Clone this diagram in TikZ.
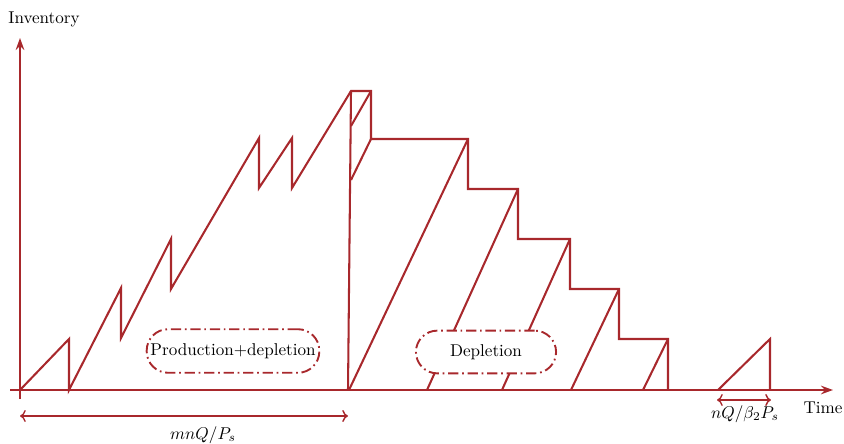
\documentclass[tikz,border=0pt]{standalone}
\usetikzlibrary{arrows.meta}
\definecolor{ink}{RGB}{168,40,44}
\begin{document}
\begin{tikzpicture}[x=0.585pt,y=-0.585pt,
  curve/.style={draw=ink,line width=1.2pt,line join=miter},
  axis/.style={draw=ink,line width=1.2pt,-{Stealth[length=7pt,width=5pt]}},
  dim/.style={draw=ink,line width=0.8pt,<->},
  tag/.style={draw=ink,line width=1.1pt,fill=white,rounded corners=12.5pt,
    dash pattern=on 6pt off 2.2pt on 1pt off 2.2pt,inner sep=0pt,font=\normalsize},
  lbl/.style={inner sep=1pt,font=\normalsize}]
\useasboundingbox (0,0) rectangle (844,444);
% axes
\coordinate (yb) at (20,399);
\coordinate (yt) at (20,38);
\coordinate (xl) at (10,390);
\coordinate (xr) at (833,390);
\draw[axis] (yb) -- (yt);
\draw[axis] (xl) -- (xr);
\node[lbl] (inv) at (44,19) {Inventory};
\node[lbl] (time) at (823,408) {Time};
% production + depletion
\draw[curve] (20,390) -- (69,339) -- (69,390) -- (121,288) -- (121,338)
  -- (171,239) -- (171,289) -- (259,138) -- (259,188) -- (292,138)
  -- (292,188) -- (351,91) -- (371,91) -- (371,139) -- (468,139)
  -- (468,189) -- (518,189) -- (518,239) -- (570,239) -- (570,289)
  -- (619,289) -- (619,339) -- (668,339) -- (668,390);
\draw[curve] (348,390) -- (351,91);
\draw[curve] (351,126) -- (371,91);
\draw[curve] (351,180) -- (371,139);
% depletion diagonals
\draw[curve] (349,390) -- (468,139);
\draw[curve] (427,390) -- (518,189);
\draw[curve] (502,390) -- (570,239);
\draw[curve] (571,390) -- (619,289);
\draw[curve] (643,390) -- (668,339);
% last small cycle
\draw[curve] (718,390) -- (770,339) -- (770,390);
% tags
\node[tag,minimum width=101pt,minimum height=25.5pt] (pd) at (233,351) {Production+depletion};
\node[tag,minimum width=82pt,minimum height=25pt] (dep) at (486,352) {Depletion};
% dimension arrows
\coordinate (a1) at (20,416);
\coordinate (a2) at (348,416);
\draw[dim] (a1) -- (a2);
\node[lbl] (mnq) at (203,435) {$mnQ/P_s$};
\coordinate (b1) at (717,400);
\coordinate (b2) at (771,400);
\draw[dim] (b1) -- (b2);
\node[lbl] (nq) at (745,414) {$nQ/\beta_2P_s$};
\end{tikzpicture}
\end{document}
